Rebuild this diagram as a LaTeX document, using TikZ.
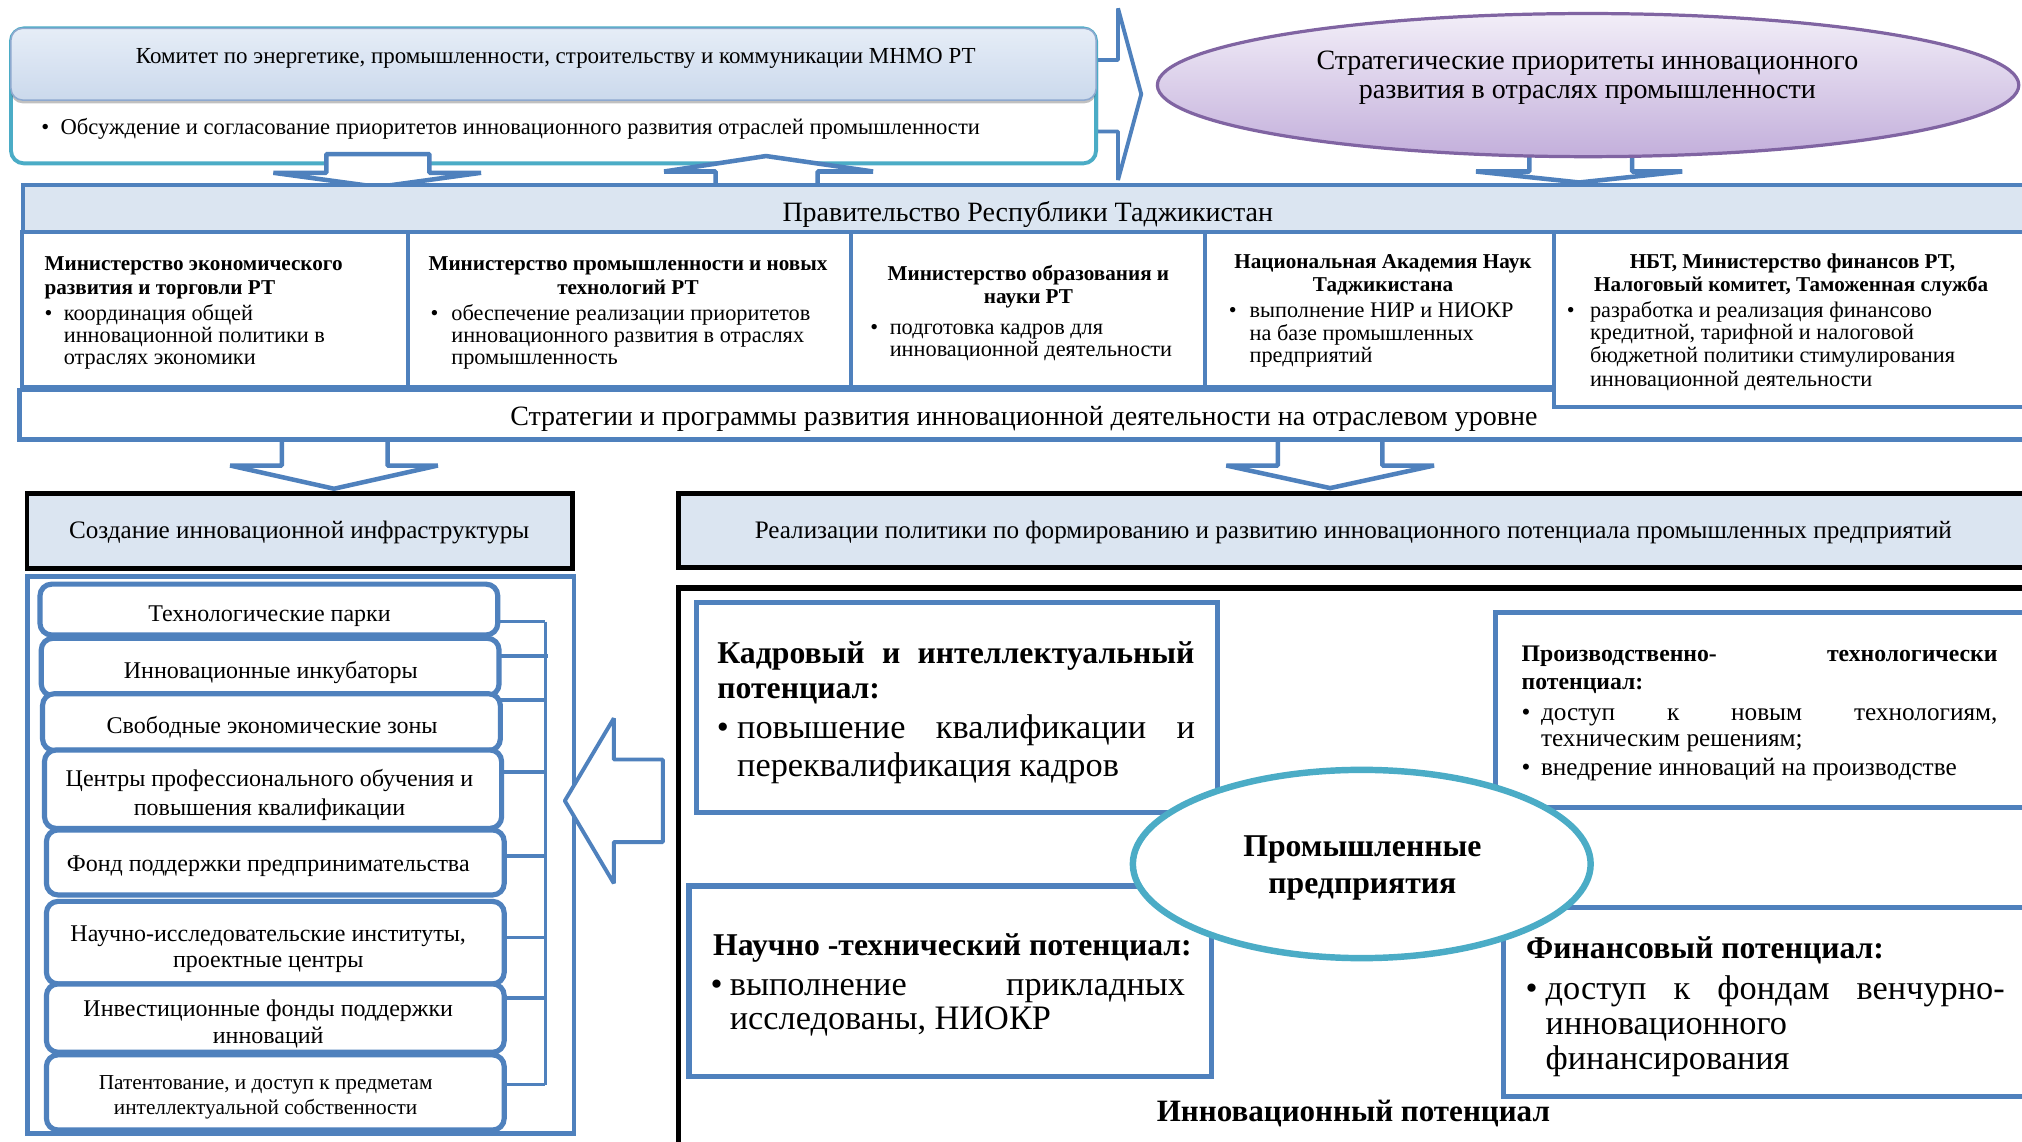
\documentclass[tikz,border=0pt]{standalone}
\usepackage{fontspec}
\setmainfont{Liberation Serif}
\usetikzlibrary{shapes.geometric,shadows}
\definecolor{bblue}{HTML}{4F81BD}
\definecolor{lblue}{HTML}{DBE5F1}
\definecolor{teal1}{HTML}{4BACC6}
\definecolor{purp}{HTML}{8064A2}
\definecolor{hdtop}{HTML}{E6EDF7}
\definecolor{hdbot}{HTML}{CBD9EC}
\definecolor{hdedge}{HTML}{8EA9CF}
\definecolor{elltop}{HTML}{F2EEF8}
\definecolor{ellbot}{HTML}{C3AFDB}
\begin{document}
\begin{tikzpicture}[x=1pt,y=-1pt,
 every node/.style={inner sep=0pt,outer sep=0pt},
 lt/.style={anchor=base west},
 ct/.style={anchor=base},
 rt/.style={anchor=base east},
 bx/.style={draw=bblue,line width=3.5pt,fill=white},
 blk/.style={draw=bblue,line width=3.5pt,fill=white,line join=bevel},
 itm/.style={draw=bblue,line width=4pt,fill=white,rounded corners=9pt},
 kbox/.style={draw=black,line width=3.5pt,fill=lblue},
 fA/.style={font=\fontsize{17.8}{17.8}\selectfont},
 fB/.style={font=\fontsize{17.5}{17.5}\selectfont},
 fE/.style={font=\fontsize{21.7}{21.7}\selectfont},
 fG/.style={font=\fontsize{21.7}{21.7}\selectfont},
 fMt/.style={font=\fontsize{16.4}{16.4}\selectfont\bfseries},
 fMb/.style={font=\fontsize{17.3}{17.3}\selectfont},
 fS/.style={font=\fontsize{19.5}{19.5}\selectfont},
 fL/.style={font=\fontsize{18.6}{18.6}\selectfont},
 fL2/.style={font=\fontsize{16.5}{16.5}\selectfont},
 fPt/.style={font=\fontsize{24.6}{24.6}\selectfont\bfseries},
 fPb/.style={font=\fontsize{26.6}{26.6}\selectfont},
 fQt/.style={font=\fontsize{18.4}{18.4}\selectfont\bfseries},
 fQb/.style={font=\fontsize{19.6}{19.6}\selectfont},
 fIn/.style={font=\fontsize{24.1}{24.1}\selectfont\bfseries}
]
\useasboundingbox (0,0) rectangle (1568,885);
\clip (0,0) rectangle (1568,885);
\fill[white] (0,0) rectangle (1568,885);

% ---------- committee ----------
\draw[blk,line width=3pt] (850,46.5) -- (867,46.5) -- (867,6.5) -- (885,73) -- (867,139.6) -- (867,102) -- (850,102) -- cycle;
\path[fill=white,draw=teal1,line width=3pt,rounded corners=10pt] (8.5,22) rectangle (850,126.7);
\path[top color=hdtop,bottom color=hdbot,draw=hdedge,line width=1.2pt,rounded corners=9pt,
  drop shadow={shadow xshift=0pt,shadow yshift=-2.5pt,opacity=0.35,fill=black!70}] (8.5,22) rectangle (850,77.6);
\node[ct,fA] (c1) at (431,49) {Комитет по энергетике, промышленности, строительству и коммуникации МНМО РТ};
\node[lt,fB] (c2b) at (32,104.5) {•};
\node[lt,fB] (c2) at (47,104.5) {Обсуждение и согласование приоритетов инновационного развития отраслей промышленности};

\draw[blk] (253,119.5) -- (253,134) -- (212,134) -- (293,145) -- (373,134) -- (333,134) -- (333,119.5) -- cycle;
\draw[blk] (555,145) -- (555,133) -- (515,133) -- (594,121) -- (677,133) -- (634,133) -- (634,145) -- cycle;

% ---------- ellipse ----------
\draw[blk] (1186,118) -- (1186,133) -- (1144.6,133) -- (1224.6,141.5) -- (1304.5,133) -- (1265.6,133) -- (1265.6,118) -- cycle;
\node[ellipse,draw=purp,line width=2.5pt,top color=elltop,bottom color=ellbot,
  minimum width=668pt,minimum height=111pt] (ell) at (1231.5,66) {};
\node[ct,fE] (e1) at (1231,54) {Стратегические приоритеты инновационного};
\node[ct,fE] (e2) at (1231,76) {развития в отраслях промышленности};

% ---------- government ----------
\draw[bx,fill=lblue] (18,143.5) rectangle (1585,180);
\node[ct,fG] (gov) at (797,172) {Правительство Республики Таджикистан};
\draw[bx] (17,180) rectangle (316.5,300);
\draw[bx] (316.5,180) rectangle (660,300);
\draw[bx] (660,180) rectangle (934.5,300);
\draw[bx] (934.5,180) rectangle (1205,300);
\draw[bx] (15,302.5) rectangle (1585,341);
\draw[bx] (1205,180) rectangle (1585,315.5);
\node[ct,fG] (str) at (794,330) {Стратегии и программы развития инновационной деятельности на отраслевом уровне};

% ministry 1
\node[lt,fMt] (m1a) at (34.6,210) {Министерство экономического};
\node[lt,fMt] (m1b) at (34.6,228) {развития и торговли РТ};
\node[lt,fMb] (m1d) at (34.6,248.7) {•};
\node[lt,fMb] (m1c) at (49.5,248.7) {координация общей};
\node[lt,fMb] (m1e) at (49.5,265.7) {инновационной политики в};
\node[lt,fMb] (m1f) at (49.5,282.7) {отраслях экономики};
% ministry 2
\node[ct,fMt] (m2a) at (487,210) {Министерство промышленности и новых};
\node[ct,fMt] (m2b) at (487,228) {технологий РТ};
\node[lt,fMb] (m2d) at (334,248.7) {•};
\node[lt,fMb] (m2c) at (350,248.7) {обеспечение реализации приоритетов};
\node[lt,fMb] (m2e) at (350,265.7) {инновационного развития в отраслях};
\node[lt,fMb] (m2f) at (350,282.7) {промышленность};
% ministry 3
\node[ct,fMt] (m3a) at (797.5,217.7) {Министерство образования и};
\node[ct,fMt] (m3b) at (797.5,235.7) {науки РТ};
\node[lt,fMb] (m3d) at (675,259.3) {•};
\node[lt,fMb] (m3c) at (690,259.3) {подготовка кадров для};
\node[lt,fMb] (m3e) at (690,276.3) {инновационной деятельности};
% ministry 4
\node[ct,fMt] (m4a) at (1072.5,208.4) {Национальная Академия Наук};
\node[ct,fMt] (m4b) at (1072.5,226.4) {Таджикистана};
\node[lt,fMb] (m4d) at (953,246.4) {•};
\node[lt,fMb] (m4c) at (969,246.4) {выполнение НИР и НИОКР};
\node[lt,fMb] (m4e) at (969,263.7) {на базе промышленных};
\node[lt,fMb] (m4f) at (969,281.2) {предприятий};
% ministry 5
\node[ct,fMt] (m5a) at (1390,208.4) {НБТ, Министерство финансов РТ,};
\node[ct,fMt] (m5b) at (1389,226.4) {Налоговый комитет, Таможенная служба};
\node[lt,fMb] (m5d) at (1215,246.4) {•};
\node[lt,fMb] (m5c) at (1233,246.4) {разработка и реализация финансово};
\node[lt,fMb] (m5e) at (1233,263.4) {кредитной, тарифной и налоговой};
\node[lt,fMb] (m5f) at (1233,281.2) {бюджетной политики стимулирования};
\node[lt,fMb] (m5g) at (1233,299.5) {инновационной деятельности};

% ---------- arrows below strategies ----------
\draw[blk] (218.5,341) -- (218.5,361) -- (178.5,361) -- (259,379) -- (339.5,361) -- (300.5,361) -- (300.5,341) -- cycle;
\draw[blk] (991,341) -- (991,361) -- (951,361) -- (1031.5,378.5) -- (1112,361) -- (1072,361) -- (1072,341) -- cycle;

% ---------- headers ----------
\draw[kbox] (20.8,382.6) rectangle (443.8,440.7);
\node[ct,fS] (inf) at (232,417.8) {Создание инновационной инфраструктуры};
\draw[kbox] (526.3,382.6) rectangle (1590,440);
\node[ct,fS] (real) at (1049.5,417.8) {Реализации политики по формированию и развитию инновационного потенциала промышленных предприятий};

% ---------- infrastructure list ----------
\draw[draw=bblue,line width=3.5pt] (21.5,447) rectangle (445,879);
\draw[itm] (31,453) rectangle (386,492.4);
\node[ct,fL] (i1) at (209,482) {Технологические парки};
\draw[itm] (32,495) rectangle (387,539.5);
\node[ct,fL] (i2) at (210,526) {Инновационные инкубаторы};
\draw[itm] (33,538) rectangle (388,582);
\node[ct,fL] (i3) at (211,568.6) {Свободные экономические зоны};
\draw[itm] (34.5,581.6) rectangle (389,642.4);
\node[ct,fL] (i4a) at (209,610) {Центры профессионального обучения и};
\node[ct,fL] (i4b) at (209,632.6) {повышения квалификации};
\draw[itm] (36,643.6) rectangle (391,694);
\node[ct,fL] (i5) at (208,675.8) {Фонд поддержки предпринимательства};
\draw[itm] (36,699) rectangle (391,763);
\node[ct,fL] (i6a) at (208,729.8) {Научно-исследовательские институты,};
\node[ct,fL] (i6b) at (208,750.5) {проектные центры};
\draw[itm] (36,763) rectangle (391,816);
\node[ct,fL] (i7a) at (208,788.3) {Инвестиционные фонды поддержки};
\node[ct,fL] (i7b) at (208,809) {инноваций};
\draw[itm] (36,818) rectangle (391,876.3);
\node[ct,fL2] (i8a) at (206,844.7) {Патентование, и доступ к предметам};
\node[ct,fL2] (i8b) at (206,864) {интеллектуальной собственности};

% bracket
\coordinate (b1) at (423,482);
\coordinate (b2) at (425,509);
\coordinate (b3) at (423,543);
\coordinate (b4) at (423,598.5);
\coordinate (b5) at (423,664);
\coordinate (b6) at (423,727);
\coordinate (b7) at (423,774);
\coordinate (b8) at (423,841);
\begin{scope}[draw=bblue,line width=3pt]
\draw (386,482) -- (b1);
\draw (387,509) -- (b2);
\draw (388,543) -- (b3);
\draw (389,598.5) -- (b4);
\draw (391,664) -- (b5);
\draw (391,727) -- (b6);
\draw (391,774) -- (b7);
\draw (391,841) -- (b8);
\draw (b1) -- (b8);
\end{scope}

% big left arrow
\draw[blk,line width=3pt] (514,589) -- (476,589) -- (476,557) -- (438,621) -- (476,685) -- (476,653) -- (514,653) -- cycle;

% ---------- potential ----------
\draw[black,line width=4pt] (526,900) -- (526,456) -- (1590,456);

\draw[bx,line width=4pt] (540,467) rectangle (944.3,630);
\draw[bx,line width=4pt] (1160,475) rectangle (1590,626);
\draw[bx,line width=4pt] (534.3,687) rectangle (939.5,835);
\draw[bx,line width=4pt] (1166,703.7) rectangle (1590,850.5);

\node[ellipse,draw=teal1,line width=5pt,fill=white,minimum width=355pt,minimum height=146pt] (pe) at (1056,670) {};
\node[ct,fPt] (pe1) at (1056.5,664.5) {Промышленные};
\node[ct,fPt] (pe2) at (1056.5,693) {предприятия};

% Kadrovyi
\node[lt,fPt] (k1) at (556.3,514.5) {\makebox[370pt][s]{Кадровый и интеллектуальный}};
\node[lt,fPt] (k2) at (556.3,541.6) {потенциал:};
\node[lt,fPb] (k3d) at (556,573) {•};
\node[lt,fPb] (k3) at (571.7,573) {\makebox[355pt][s]{повышение квалификации и}};
\node[lt,fPb] (k4) at (571.7,601.8) {переквалификация кадров};

% Proizvodstvenno
\node[lt,fQt] (q1) at (1180,512.9) {\makebox[369pt][l]{Производственно-\hfill технологически}};
\node[lt,fQt] (q2) at (1180,535) {потенциал:};
\node[lt,fQb] (q3d) at (1180,558.6) {•};
\node[lt,fQb] (q3) at (1195,558.6) {\makebox[354pt][s]{доступ к новым технологиям,}};
\node[lt,fQb] (q4) at (1195,579.2) {техническим решениям;};
\node[lt,fQb] (q5d) at (1180,601.2) {•};
\node[lt,fQb] (q5) at (1195,601.2) {внедрение инноваций на производстве};

% Nauchno
\node[lt,fPt] (n1) at (553,740.6) {Научно -технический потенциал:};
\node[lt,fPb] (n2d) at (551,772) {•};
\node[lt,fPb] (n2) at (566,772) {\makebox[353pt][s]{выполнение прикладных}};
\node[lt,fPb] (n3) at (566,798) {исследованы, НИОКР};

% Finansovyi
\node[lt,fPt] (f1) at (1183.5,743.3) {Финансовый потенциал:};
\node[lt,fPb] (f2d) at (1183,774.9) {•};
\node[lt,fPb] (f2) at (1198.6,774.9) {\makebox[356pt][s]{доступ к фондам венчурно-}};
\node[lt,fPb] (f3) at (1198.6,802.1) {инновационного};
\node[lt,fPb] (f4) at (1198.6,829.2) {финансирования};

\node[ct,fIn] (ip) at (1049.5,869.9) {Инновационный потенциал};
\end{tikzpicture}
\end{document}
